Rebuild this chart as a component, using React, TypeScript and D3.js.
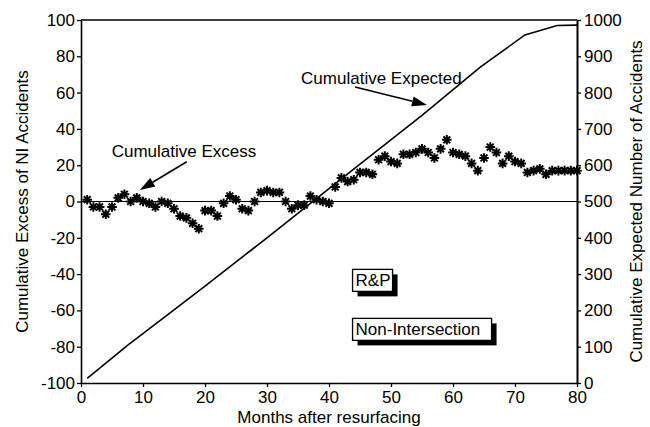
import React, { useEffect, useRef } from "react";
import * as d3 from "d3";

// Cumulative excess of NI accidents, months 1..80
const excess = [
  1, -3, -3, -7, -3, 2, 4, 0, 2, 0,
  -1, -3, 0, -1, -4, -8, -9, -12, -15, -5,
  -5, -8, -1, 3, 1, -4, -5, 0, 5, 6,
  5, 5, 0, -4, -2, -2, 3, 1, 0, -1,
  8, 13, 11, 12, 16, 16, 15, 23, 25, 22,
  21, 26, 26, 27, 29, 27, 24, 29, 34, 27,
  26, 25, 21, 17, 24, 30, 27, 21, 25, 22,
  21, 16, 17, 18, 15, 17, 17, 17, 17, 17,
];

// Cumulative expected number of accidents (right axis)
const expectedMonths = [1, 7.6, 13, 20, 30, 37, 45, 55, 64.4, 71.6, 76.8, 80];
const expectedCounts = [13, 105, 175, 267, 400, 495, 603, 737, 870, 959, 985, 986];

const leftTicks = [-100, -80, -60, -40, -20, 0, 20, 40, 60, 80, 100];
const rightTicks = [0, 100, 200, 300, 400, 500, 600, 700, 800, 900, 1000];
const monthTicks = [0, 10, 20, 30, 40, 50, 60, 70, 80];

const FONT = "'Liberation Sans', Arial, Helvetica, sans-serif";

const App = () => {
  const ref = useRef<SVGSVGElement>(null);

  useEffect(() => {
    const width = 650;
    const height = 427;
    const margin = { top: 20, right: 73, bottom: 44, left: 81 };

    const x = d3.scaleLinear().domain([0, 80]).range([margin.left, width - margin.right]);
    const yL = d3.scaleLinear().domain([-100, 100]).range([height - margin.bottom, margin.top]);
    const yR = d3.scaleLinear().domain([0, 1000]).range([height - margin.bottom, margin.top]);

    const svg = d3.select(ref.current);
    svg.selectAll("*").remove();
    svg.append("rect").attr("width", width).attr("height", height).attr("fill", "#fff");

    // axes
    const styleAxis = (g: any) => {
      g.select(".domain").attr("stroke", "#000").attr("stroke-width", 1.6);
      g.selectAll(".tick line").attr("stroke", "#000").attr("stroke-width", 1.3);
      g.selectAll(".tick text")
        .attr("fill", "#000")
        .style("font-size", "17px")
        .style("font-family", FONT);
    };

    svg
      .append("g")
      .attr("transform", `translate(${margin.left},0)`)
      .call(
        d3.axisLeft(yL).tickValues(leftTicks).tickSize(4).tickSizeOuter(0).tickPadding(2)
          .tickFormat((d: any) => String(d))
      )
      .call(styleAxis);

    svg
      .append("g")
      .attr("transform", `translate(${width - margin.right},0)`)
      .call(
        d3.axisRight(yR).tickValues(rightTicks).tickSize(4).tickSizeOuter(0).tickPadding(3)
          .tickFormat((d: any) => String(d))
      )
      .call(styleAxis)
      .call((g: any) => g.select(".domain").attr("stroke-width", 2));

    svg
      .append("g")
      .attr("transform", `translate(0,${height - margin.bottom})`)
      .call(
        d3.axisBottom(x).tickValues(monthTicks).tickSize(4).tickSizeOuter(0).tickPadding(4)
          .tickFormat((d: any) => String(d))
      )
      .call(styleAxis);

    // top frame line
    svg
      .append("line")
      .attr("x1", x(0)).attr("x2", x(80))
      .attr("y1", yL(100)).attr("y2", yL(100))
      .attr("stroke", "#000").attr("stroke-width", 1.5);

    // zero line
    svg
      .append("line")
      .attr("x1", x(0)).attr("x2", x(80))
      .attr("y1", yL(0)).attr("y2", yL(0))
      .attr("stroke", "#000").attr("stroke-width", 1.1);

    // expected line
    const line = d3
      .line<number>()
      .x((d, i) => x(expectedMonths[i]))
      .y((d) => yR(d));
    svg
      .append("path")
      .datum(expectedCounts)
      .attr("fill", "none")
      .attr("stroke", "#000")
      .attr("stroke-width", 1.6)
      .attr("d", line);

    // asterisks
    const star = "M-4.8,0L4.8,0M0,-4.8L0,4.8M-3.4,-3.4L3.4,3.4M-3.4,3.4L3.4,-3.4";
    svg
      .append("g")
      .selectAll("path")
      .data(excess)
      .join("path")
      .attr("transform", (d, i) => `translate(${x(i + 1)},${yL(d)})`)
      .attr("d", star)
      .attr("stroke", "#000")
      .attr("stroke-width", 2)
      .attr("fill", "none");

    // annotations (in data coordinates)
    const text = (mx: number, v: number, s: string) =>
      svg
        .append("text")
        .attr("x", x(mx))
        .attr("y", yL(v))
        .attr("fill", "#000")
        .style("font-size", "17px")
        .style("font-family", FONT)
        .text(s);

    const arrow = (m0: number, v0: number, m1: number, v1: number) => {
      const x0 = x(m0), y0 = yL(v0), x1 = x(m1), y1 = yL(v1);
      const len = Math.hypot(x1 - x0, y1 - y0);
      const ux = (x1 - x0) / len, uy = (y1 - y0) / len;
      const hl = 15, hw = 5;
      const bx = x1 - ux * hl, by = y1 - uy * hl;
      svg
        .append("line")
        .attr("x1", x0).attr("y1", y0).attr("x2", bx).attr("y2", by)
        .attr("stroke", "#000").attr("stroke-width", 1.6);
      svg
        .append("polygon")
        .attr(
          "points",
          `${x1},${y1} ${bx - uy * hw},${by + ux * hw} ${bx + uy * hw},${by - ux * hw}`
        )
        .attr("fill", "#000");
    };

    text(4.95, 24.7, "Cumulative Excess");
    arrow(17.05, 21.9, 9.5, 6.3);
    text(35.5, 64.7, "Cumulative Expected");
    arrow(44.2, 63.1, 55.8, 53.2);

    const box = (mx: number, v: number, w: number, s: string) => {
      const bx = x(mx), by = yL(v), h = 22;
      svg.append("rect").attr("x", bx + 5).attr("y", by + 5).attr("width", w).attr("height", h).attr("fill", "#000");
      svg.append("rect").attr("x", bx).attr("y", by).attr("width", w).attr("height", h)
        .attr("fill", "#fff").attr("stroke", "#000").attr("stroke-width", 1.3);
      svg.append("text").attr("x", bx + 3).attr("y", by + 17).attr("fill", "#000")
        .style("font-size", "17px").style("font-family", FONT).text(s);
    };
    box(43.8, -37.4, 40, "R&P");
    box(43.8, -64.4, 139, "Non-Intersection");

    // axis titles
    svg
      .append("text")
      .attr("transform", `translate(28,${yL(0)}) rotate(-90)`)
      .attr("text-anchor", "middle")
      .attr("fill", "#000")
      .style("font-size", "17px")
      .style("font-family", FONT)
      .text("Cumulative Excess of NI Accidents");

    svg
      .append("text")
      .attr("transform", `translate(642,${yL(0)}) rotate(-90)`)
      .attr("text-anchor", "middle")
      .attr("fill", "#000")
      .style("font-size", "17px")
      .style("font-family", FONT)
      .text("Cumulative Expected Number of Accidents");

    svg
      .append("text")
      .attr("x", x(40))
      .attr("y", 423)
      .attr("text-anchor", "middle")
      .attr("fill", "#000")
      .style("font-size", "17px")
      .style("font-family", FONT)
      .text("Months after resurfacing");

    return () => {
      svg.selectAll("*").remove();
    };
  }, []);

  return (
    <div style={{ position: "absolute", left: 0, top: 0 }}>
      <svg ref={ref} width={650} height={427} style={{ display: "block" }} />
    </div>
  );
};

export default App;
